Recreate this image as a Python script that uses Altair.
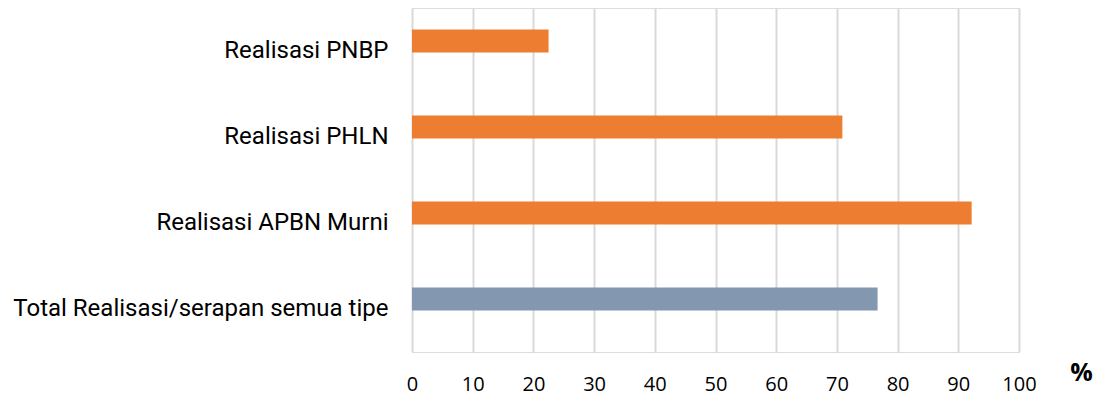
import altair as alt
import pandas as pd

categories = ["Realisasi PNBP", "Realisasi PHLN", "Realisasi APBN Murni", "Total Realisasi/serapan semua tipe"]
values = [22.5, 70.9, 92.2, 76.7]
series = ["Realisasi", "Realisasi", "Realisasi", "Total"]
colors = ["#ED7D31", "#8497B0"]
x_ticks = [0, 10, 20, 30, 40, 50, 60, 70, 80, 90, 100]

df = pd.DataFrame({"cat": categories, "val": values, "series": series})

chart = alt.Chart(df).mark_bar(size=23, yOffset=-10).encode(
    y=alt.Y("cat:N", sort=categories,
            scale=alt.Scale(paddingInner=0, paddingOuter=0),
            axis=alt.Axis(title=None, ticks=False, domain=False, labelFont="Roboto",
                          labelFontSize=24, labelColor="#000000",
                          labelPadding=24, labelLimit=500)),
    x=alt.X("val:Q", scale=alt.Scale(domain=[0, 100], nice=False),
            axis=alt.Axis(values=x_ticks, title="%", ticks=False, domain=False,
                          grid=True, gridColor="#d9d9d9", gridWidth=2,
                          labelFont="Open Sans", labelFontSize=20, labelColor="#000000",
                          labelPadding=22, labelFlush=False,
                          titleFont="Open Sans", titleFontSize=25, titleFontWeight="bold",
                          titleColor="#000000", titleX=669, titleY=20, titleAngle=0,
                          titleAlign="center", titleBaseline="middle")),
    color=alt.Color("series:N", scale=alt.Scale(domain=["Realisasi", "Total"], range=colors),
                    legend=None),
).properties(
    width=607, height=344,
    autosize=alt.AutoSizeParams(type="none"),
    padding={"left": 412, "top": 8, "right": 80, "bottom": 48},
).configure_view(stroke=None).configure(background="white")

chart.save("out.html", embed_options={"renderer": "svg", "actions": False})
